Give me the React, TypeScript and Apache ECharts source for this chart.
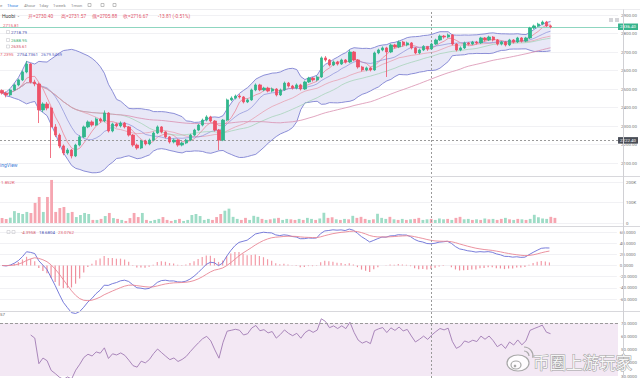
import React, { useEffect, useRef } from "react";
import * as echarts from "echarts";

// [open, close, low, high]
const candles: number[][] = [
  [2492, 2478, 2470, 2498], [2478, 2468, 2455, 2486], [2468, 2495, 2462, 2500], [2495, 2522, 2490, 2530],
  [2522, 2549, 2515, 2556], [2549, 2592, 2543, 2600], [2592, 2635, 2585, 2652], [2635, 2538, 2530, 2640],
  [2538, 2527, 2515, 2550], [2527, 2387, 2316, 2535], [2387, 2419, 2375, 2428], [2419, 2397, 2385, 2430],
  [2397, 2295, 2127, 2405], [2295, 2251, 2240, 2310], [2251, 2192, 2180, 2260], [2192, 2154, 2142, 2200],
  [2154, 2170, 2145, 2180], [2170, 2138, 2125, 2176], [2138, 2197, 2132, 2204], [2197, 2241, 2190, 2250],
  [2241, 2295, 2235, 2302], [2295, 2322, 2288, 2330], [2322, 2305, 2296, 2330], [2305, 2338, 2300, 2346],
  [2338, 2327, 2318, 2345], [2327, 2370, 2320, 2384], [2370, 2273, 2265, 2375], [2273, 2311, 2266, 2318],
  [2311, 2300, 2292, 2318], [2300, 2316, 2292, 2325], [2316, 2295, 2287, 2322], [2295, 2251, 2243, 2300],
  [2251, 2197, 2188, 2256], [2197, 2181, 2172, 2205], [2181, 2219, 2175, 2226], [2219, 2203, 2195, 2226],
  [2203, 2224, 2196, 2232], [2224, 2262, 2218, 2270], [2262, 2295, 2256, 2303], [2295, 2268, 2260, 2300],
  [2268, 2241, 2233, 2272], [2241, 2214, 2205, 2246], [2214, 2224, 2206, 2232], [2224, 2197, 2188, 2228],
  [2197, 2208, 2190, 2215], [2208, 2224, 2202, 2230], [2224, 2251, 2218, 2258], [2251, 2278, 2245, 2285],
  [2278, 2305, 2272, 2312], [2305, 2332, 2298, 2340], [2332, 2349, 2325, 2358], [2349, 2327, 2320, 2355],
  [2327, 2278, 2270, 2332], [2278, 2224, 2170, 2284], [2224, 2332, 2218, 2338], [2332, 2441, 2326, 2448],
  [2441, 2451, 2434, 2460], [2451, 2462, 2444, 2470], [2462, 2457, 2448, 2472], [2457, 2430, 2422, 2462],
  [2430, 2441, 2424, 2448], [2441, 2495, 2436, 2502], [2495, 2522, 2488, 2530], [2522, 2495, 2488, 2528],
  [2495, 2505, 2488, 2512], [2505, 2489, 2482, 2512], [2489, 2500, 2482, 2508], [2500, 2468, 2460, 2505],
  [2468, 2495, 2462, 2502], [2495, 2532, 2490, 2540], [2532, 2516, 2508, 2538], [2516, 2505, 2497, 2522],
  [2505, 2522, 2498, 2530], [2522, 2500, 2492, 2528], [2500, 2538, 2495, 2545], [2538, 2559, 2532, 2566],
  [2559, 2549, 2540, 2565], [2549, 2565, 2542, 2572], [2565, 2668, 2560, 2676], [2668, 2657, 2648, 2678],
  [2657, 2630, 2622, 2662], [2630, 2646, 2624, 2654], [2646, 2635, 2627, 2652], [2635, 2657, 2630, 2664],
  [2657, 2646, 2638, 2662], [2646, 2700, 2640, 2712], [2700, 2657, 2650, 2705], [2657, 2619, 2610, 2662],
  [2619, 2603, 2595, 2625], [2603, 2614, 2596, 2621], [2614, 2603, 2595, 2620], [2603, 2695, 2598, 2702],
  [2695, 2711, 2688, 2718], [2711, 2722, 2704, 2730], [2722, 2700, 2565, 2728], [2700, 2738, 2694, 2745],
  [2738, 2727, 2720, 2744], [2727, 2754, 2721, 2762], [2754, 2738, 2730, 2760], [2738, 2749, 2731, 2756],
  [2749, 2722, 2714, 2754], [2722, 2695, 2688, 2727], [2695, 2711, 2688, 2718], [2711, 2730.4, 2705, 2737],
  [2730.4, 2716.67, 2705.88, 2731.57], [2716.67, 2743, 2712, 2750], [2743, 2765, 2738, 2772], [2765, 2786, 2760, 2794],
  [2786, 2781, 2772, 2792], [2781, 2792, 2775, 2800], [2792, 2743, 2736, 2797], [2743, 2711, 2703, 2748],
  [2711, 2722, 2704, 2730], [2722, 2749, 2716, 2756], [2749, 2743, 2735, 2754], [2743, 2754, 2737, 2760],
  [2754, 2749, 2741, 2760], [2749, 2776, 2743, 2782], [2776, 2765, 2757, 2781], [2765, 2781, 2759, 2788],
  [2781, 2765, 2757, 2786], [2765, 2743, 2735, 2770], [2743, 2754, 2736, 2760], [2754, 2738, 2730, 2760],
  [2738, 2765, 2732, 2771], [2765, 2754, 2746, 2770], [2754, 2776, 2748, 2782], [2776, 2759, 2751, 2781],
  [2759, 2776, 2753, 2782], [2776, 2830, 2770, 2836], [2830, 2841, 2824, 2848], [2841, 2851, 2835, 2858],
  [2851, 2862, 2845, 2870], [2862, 2841, 2835, 2868], [2841, 2836.4, 2828, 2847],
];

// volume in thousands
const volumesK: number[] = [
  24, 20, 26, 58, 49, 44, 54, 49, 98, 127, 54, 127, 210, 54, 73, 78, 49, 54, 29, 39,
  49, 44, 15, 15, 20, 34, 49, 24, 20, 15, 10, 24, 49, 29, 49, 15, 10, 15, 20, 29,
  15, 10, 15, 20, 10, 15, 39, 44, 34, 15, 20, 15, 29, 44, 60, 70, 30, 20, 15, 25,
  15, 35, 30, 20, 15, 18, 22, 25, 15, 20, 18, 15, 20, 15, 25, 20, 15, 22, 50, 25,
  28, 18, 15, 20, 18, 35, 25, 30, 20, 15, 18, 45, 25, 20, 30, 18, 15, 20, 15, 18,
  20, 25, 15, 18, 20, 15, 22, 18, 20, 15, 25, 30, 18, 20, 15, 18, 15, 22, 18, 20,
  15, 20, 25, 18, 15, 20, 18, 15, 20, 40, 28, 22, 20, 30, 25,
];

const toolbarItems = ["e", "1hour", "4hour", "1day", "1week", "1mon"];
const headerValues = ["开=2730.40", "高=2731.57", "低=2705.88", "收=2716.67", "-13.81 (-0.51%)"];
const maLegend = ["2715.81", "2718.79", "2688.95", "2635.61"];
const bollLegend = ["7.2395", "2754.7361", "2679.5459"];
const macdLegend = ["-4.3958", "18.6804", "23.0762"];
const volumeLegend = "1.852K";
const rsiLegend = "57";
const watermarkText = "币圈上游玩家";
const hoverIndex = 104;
const crossPrice = 2222.4;
const slotCount = 151;
const rsiFirstShown = 7;

const UP = "#31b68c";
const DOWN = "#ee5167";
const UP_VOL = "#9edcc6";
const DOWN_VOL = "#f6a6b1";
const HIST_POS = "#f39ba7";
const HIST_NEG = "#ef8e9c";
const FONT = "Roboto";
const FS = 4.4;

function sma(v: number[], n: number): number[] {
  return v.map((_, i) => {
    const s = Math.max(0, i - n + 1);
    let t = 0;
    for (let k = s; k <= i; k++) t += v[k];
    return t / (i - s + 1);
  });
}
function stdev(v: number[], n: number, mean: number[]): number[] {
  return v.map((_, i) => {
    const s = Math.max(0, i - n + 1);
    let t = 0;
    for (let k = s; k <= i; k++) t += (v[k] - mean[i]) ** 2;
    return Math.sqrt(t / (i - s + 1));
  });
}
function ema(v: number[], n: number): number[] {
  const a = 2 / (n + 1);
  let e = v[0];
  return v.map((x, i) => (e = i === 0 ? x : a * x + (1 - a) * e));
}
function rsiCalc(v: number[], n: number): (number | string)[] {
  let ag = 0, al = 0;
  return v.map((x, i) => {
    if (i === 0) return "-";
    const d = x - v[i - 1];
    const g = Math.max(d, 0), l = Math.max(-d, 0);
    if (i <= n) { ag = (ag * (i - 1) + g) / i; al = (al * (i - 1) + l) / i; }
    else { ag = (ag * (n - 1) + g) / n; al = (al * (n - 1) + l) / n; }
    const r = al === 0 ? 100 : 100 - 100 / (1 + ag / al);
    return i < rsiFirstShown ? "-" : r;
  });
}

export default function App() {
  const ref = useRef<HTMLDivElement>(null);
  useEffect(() => {
    const chart = echarts.init(ref.current!, null, { renderer: "svg" });
    const closes = candles.map((c) => c[1]);
    const cats = Array.from({ length: slotCount }, (_, i) => String(i));
    const ma5 = sma(closes, 5), ma10 = sma(closes, 10), ma30 = sma(closes, 30), ma60 = sma(closes, 60);
    const mid = sma(closes, 20);
    const sd = stdev(closes, 20, mid);
    const upper = mid.map((m, i) => m + 2 * sd[i]);
    const lower = mid.map((m, i) => m - 2 * sd[i]);
    const e12 = ema(closes, 12), e26 = ema(closes, 26);
    const dif = e12.map((e, i) => e - e26[i]);
    const dea = ema(dif, 9);
    const hist = dif.map((d, i) => d - dea[i]);
    const rsi = rsiCalc(closes, 14);
    const lastClose = closes[closes.length - 1];

    const axisLabel = (fmt: (v: number) => string) => ({
      show: true, color: "#777", fontSize: FS, fontFamily: FONT, margin: 3, formatter: fmt,
    });
    const grids = [
      { left: 0, right: 17, top: 15, height: 148 },
      { left: 0, right: 17, top: 182, height: 41 },
      { left: 0, right: 17, top: 232, height: 67 },
      { left: 0, right: 17, top: 323, height: 60 },
      { left: 0, right: 17, top: 10, height: 368 },
    ];
    const xAxes = grids.map((_, i) => ({
      type: "category", gridIndex: i, data: cats, boundaryGap: true,
      axisLine: { show: false }, axisTick: { show: false }, axisLabel: { show: false },
      splitLine: { show: false },
    }));
    const split = { show: true, lineStyle: { color: "#f1f1f4", width: 1 } };
    const yBase = { position: "right", axisLine: { show: false }, axisTick: { show: false }, splitLine: split };
    const yAxes = [
      { ...yBase, gridIndex: 0, min: 2100, max: 2900, interval: 100, axisLabel: axisLabel((v) => v.toFixed(2)) },
      { ...yBase, gridIndex: 1, min: 0, max: 200, interval: 100, axisLabel: axisLabel((v) => (v === 0 ? "0" : v + "K")) },
      { ...yBase, gridIndex: 2, min: -60, max: 60, interval: 20, axisLabel: axisLabel((v) => v.toFixed(4)) },
      { ...yBase, gridIndex: 3, min: 30, max: 70, interval: 10, splitLine: { show: false }, axisLabel: axisLabel((v) => v.toFixed(4)) },
      { type: "value", gridIndex: 4, show: false },
    ];
    const line = (name: string, data: any[], color: string, xi: number, width = 0.8, z = 3) => ({
      name, type: "line", data, xAxisIndex: xi, yAxisIndex: xi, symbol: "none", smooth: false,
      clip: false, z, lineStyle: { color, width }, silent: true,
    });
    const markLabel = (bg: string, text: string) => ({
      show: true, position: "end", distance: 0, formatter: text, backgroundColor: bg, color: "#fff",
      fontSize: FS, fontFamily: FONT, padding: [1.5, 2, 1, 2],
    });

    const series: any[] = [
      { name: "bollBase", type: "line", data: lower, stack: "boll", symbol: "none", lineStyle: { opacity: 0 }, xAxisIndex: 0, yAxisIndex: 0, z: 1, clip: false, silent: true },
      { name: "bollBand", type: "line", data: upper.map((u, i) => u - lower[i]), stack: "boll", symbol: "none", lineStyle: { opacity: 0 }, areaStyle: { color: "#e6e6f6", opacity: 0.9 }, xAxisIndex: 0, yAxisIndex: 0, z: 1, clip: false, silent: true },
      line("bollUpper", upper, "#7f82d3", 0, 0.9, 2),
      line("bollLower", lower, "#7f82d3", 0, 0.9, 2),
      line("bollMid", mid, "#e88a9a", 0, 0.6, 2),
      line("ma5", ma5, "#ec7a8c", 0, 0.7, 2),
      line("ma10", ma10, "#8a8ed8", 0, 0.7, 2),
      line("ma30", ma30, "#9fd1b2", 0, 0.7, 2),
      line("ma60", ma60, "#d98fb0", 0, 0.8, 2),
      {
        name: "kline", type: "candlestick", data: candles.map((c) => [c[0], c[1], c[2], c[3]]),
        xAxisIndex: 0, yAxisIndex: 0, barWidth: "68%", z: 5, clip: false,
        itemStyle: { color: UP, color0: DOWN, borderColor: UP, borderColor0: DOWN, borderWidth: 0.8 },
        markLine: {
          silent: true, symbol: ["none", "none"], animation: false,
          data: [
            { yAxis: lastClose, lineStyle: { color: "#8fd6c0", type: "solid", width: 1 }, label: markLabel("#37b48c", lastClose.toFixed(2)) },
            { yAxis: crossPrice, lineStyle: { color: "#9a9a9a", type: [2, 2], width: 1 }, label: markLabel("#4a4e57", crossPrice.toFixed(2)) },
          ],
        },
      },
      {
        name: "volume", type: "bar", xAxisIndex: 1, yAxisIndex: 1, barWidth: "68%", clip: false,
        data: volumesK.map((v, i) => ({ value: v, itemStyle: { color: candles[i][1] >= candles[i][0] ? UP_VOL : DOWN_VOL } })),
      },
      {
        name: "hist", type: "custom", xAxisIndex: 2, yAxisIndex: 2, z: 2, silent: true, clip: false,
        data: hist.map((h, i) => [i, h]),
        renderItem: (_params: any, api: any) => {
          const idx = api.value(0);
          const v = api.value(1);
          const p0 = api.coord([idx, 0]);
          const p1 = api.coord([idx, v]);
          return {
            type: "rect",
            shape: { x: p0[0] - 0.6, y: Math.min(p0[1], p1[1]), width: 1.2, height: Math.abs(p1[1] - p0[1]) },
            style: { fill: v >= 0 ? HIST_POS : HIST_NEG, stroke: null },
          };
        },
      },
      line("dif", dif, "#6a6ed6", 2, 0.9, 4),
      line("dea", dea, "#e98795", 2, 0.9, 4),
      {
        ...line("rsi", rsi, "#a07ab3", 3, 0.9, 4),
        markArea: { silent: true, itemStyle: { color: "#f3e8f4" }, data: [[{ yAxis: 30 }, { yAxis: 70 }]] },
        markLine: { silent: true, symbol: ["none", "none"], label: { show: false }, lineStyle: { color: "#9a9a9a", type: [3, 2], width: 1 }, data: [{ yAxis: 70 }] },
      },
      {
        name: "crosshair", type: "line", xAxisIndex: 4, yAxisIndex: 4, data: cats.map(() => 0), symbol: "none",
        lineStyle: { opacity: 0 }, z: 10, silent: true,
        markLine: { silent: true, symbol: ["none", "none"], label: { show: false }, lineStyle: { color: "#9a9a9a", type: [2, 2], width: 1 }, data: [{ xAxis: hoverIndex }] },
      },
    ];

    const txt = (x: number, y: number, text: string, fill: string, size = FS, extra: any = {}) => ({
      type: "text", x, y, silent: true, z: 20,
      style: { text, fill, fontSize: size, fontFamily: FONT, verticalAlign: "middle", ...extra },
    });
    const hline = (y: number, color = "#d8d8dc") => ({ type: "line", silent: true, z: 15, shape: { x1: 0, y1: y, x2: 640, y2: y }, style: { stroke: color, lineWidth: 1 } });
    const box = (x: number, y: number, color = "#c8c8cc") => ({ type: "rect", silent: true, z: 20, shape: { x, y: y - 1.5, width: 3, height: 3 }, style: { fill: "none", stroke: color, lineWidth: 0.6 } });

    const toolbarX = [0, 7, 24, 39, 53, 71];
    const headerX = [28, 61, 92, 123, 158];
    const graphic: any[] = [
      hline(9.5, "#ececef"),
      hline(176.5), hline(226.5), hline(311.5),
      { type: "line", silent: true, z: 15, shape: { x1: 623.5, y1: 9.5, x2: 623.5, y2: 378 }, style: { stroke: "#d0d0d4", lineWidth: 1 } },
      ...toolbarItems.map((t, i) => txt(toolbarX[i], 5, t, i === 1 ? "#2f7be0" : "#8a8a8a", FS)),
      box(88, 5, "#999"), box(101, 5, "#999"), box(113, 5, "#999"),
      txt(2, 16, "Huobi  -", "#444", 5),
      ...headerValues.map((t, i) => txt(headerX[i], 16, t, "#e2566b", 4.8)),
      txt(3, 25, maLegend[0], "#e2566b"),
      box(6.5, 32), txt(11, 32, maLegend[1], "#4b4fb0"),
      box(6.5, 40), txt(11, 40, maLegend[2], "#3fae74"),
      box(6.5, 46.5), txt(11, 46.5, maLegend[3], "#d24d64"),
      txt(0, 54.5, bollLegend[0], "#e2566b"),
      txt(17, 54.5, bollLegend[1], "#4b4fb0"),
      txt(41, 54.5, bollLegend[2], "#5a5fc2"),
      txt(0, 165, "ingView", "#3f7fd8", 5),
      txt(1, 182, volumeLegend, "#e2566b"),
      box(7, 232), box(12, 232),
      txt(21, 232, macdLegend[0], "#d2576c"),
      txt(39, 232, macdLegend[1], "#4b4fb0"),
      txt(58, 232, macdLegend[2], "#e2566b"),
      txt(0, 314, rsiLegend, "#666"),
      { type: "rect", silent: true, z: 20, shape: { x: 609, y: 18, width: 4, height: 4 }, style: { fill: "#d4d4d8" } },
      { type: "rect", silent: true, z: 20, shape: { x: 615, y: 18, width: 4, height: 4 }, style: { fill: "#d4d4d8" } },
      // watermark
      { type: "ellipse", silent: true, z: 30, shape: { cx: 518, cy: 363, rx: 11, ry: 8 }, style: { fill: "rgba(255,255,255,0.85)", stroke: "#a8a8a8", lineWidth: 1.2 } },
      { type: "ellipse", silent: true, z: 31, shape: { cx: 516, cy: 365, rx: 5, ry: 4 }, style: { fill: "none", stroke: "#a8a8a8", lineWidth: 1.2 } },
      { type: "circle", silent: true, z: 31, shape: { cx: 515, cy: 366, r: 1.3 }, style: { fill: "#a8a8a8" } },
      { type: "arc", silent: true, z: 31, shape: { cx: 524, cy: 356, r: 5, startAngle: -Math.PI / 2, endAngle: 0 }, style: { stroke: "#a8a8a8", lineWidth: 1.2, fill: "none" } },
      { type: "arc", silent: true, z: 31, shape: { cx: 524, cy: 356, r: 9, startAngle: -Math.PI / 2, endAngle: 0.2 }, style: { stroke: "#a8a8a8", lineWidth: 1.2, fill: "none" } },
      {
        type: "text", silent: true, z: 30, x: 533, y: 362,
        style: { text: watermarkText, fontSize: 16.5, fontFamily: "Noto Sans CJK SC", fill: "rgba(255,255,255,0.92)", stroke: "#a0a0a0", lineWidth: 1, verticalAlign: "middle" },
      },
    ];

    chart.setOption({
      animation: false,
      backgroundColor: "#ffffff",
      grid: grids,
      xAxis: xAxes,
      yAxis: yAxes,
      series,
      graphic,
    });
    return () => chart.dispose();
  }, []);
  return <div ref={ref} style={{ position: "fixed", left: 0, top: 0, width: 640, height: 378, background: "#fff" }} />;
}
